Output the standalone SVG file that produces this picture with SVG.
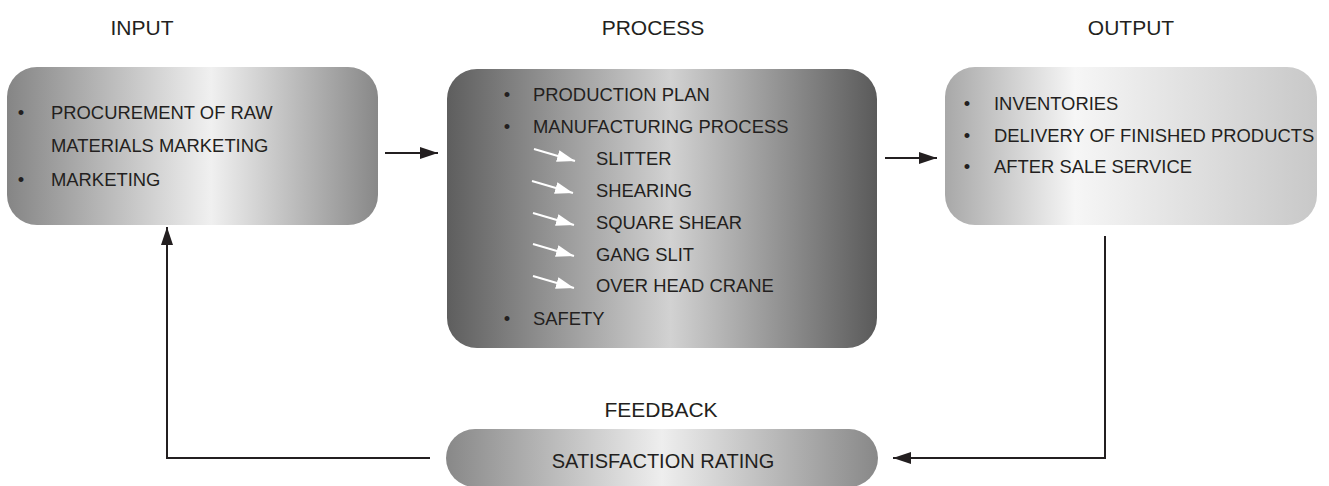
<svg xmlns="http://www.w3.org/2000/svg" width="1329" height="486" viewBox="0 0 1329 486">
<style>
text{font-family:"Liberation Sans",Arial,sans-serif;font-size:18.4px;fill:#231f20}
.h{text-anchor:middle;font-size:21px}
.b{text-anchor:middle}
.ln{stroke:#231f20;stroke-width:2;fill:none}
.wa{stroke:#fff;stroke-width:2;fill:none}
</style>
<defs>
<linearGradient id="gIn" x1="0" y1="0" x2="1" y2="0">
<stop offset="0" stop-color="#858585"/>
<stop offset="0.55" stop-color="#f0f0f0"/>
<stop offset="1" stop-color="#888888"/>
</linearGradient>
<linearGradient id="gPr" x1="0" y1="0" x2="1" y2="0">
<stop offset="0" stop-color="#5e5e5e"/>
<stop offset="0.52" stop-color="#d2d2d2"/>
<stop offset="1" stop-color="#5a5a5a"/>
</linearGradient>
<linearGradient id="gOut" x1="0" y1="0" x2="1" y2="0">
<stop offset="0" stop-color="#a8a8a8"/>
<stop offset="0.35" stop-color="#f6f6f6"/>
<stop offset="1" stop-color="#c8c8c8"/>
</linearGradient>
<linearGradient id="gFb" x1="0" y1="0" x2="1" y2="0">
<stop offset="0" stop-color="#888888"/>
<stop offset="0.5" stop-color="#eeeeee"/>
<stop offset="1" stop-color="#888888"/>
</linearGradient>
<marker id="ah" viewBox="0 0 18 12" refX="18" refY="6" markerWidth="18" markerHeight="12" markerUnits="userSpaceOnUse" orient="auto">
<path d="M0,0 L18,6 L0,12 Z" fill="#231f20"/>
</marker>
<marker id="wh" viewBox="0 0 18 12" refX="18" refY="6" markerWidth="18" markerHeight="12" markerUnits="userSpaceOnUse" orient="auto">
<path d="M0,0 L18,6 L0,12 Z" fill="#ffffff"/>
</marker>
</defs>
<rect width="1329" height="486" fill="#ffffff"/>

<g id="headers">
<text class="h" x="142" y="35">INPUT</text>
<text class="h" x="653" y="35">PROCESS</text>
<text class="h" x="1131" y="35">OUTPUT</text>
<text class="h" x="661" y="417">FEEDBACK</text>
</g>

<g id="input">
<rect x="7" y="67" width="371" height="158" rx="30" fill="url(#gIn)"/>
<text class="b" x="21" y="119">•</text>
<text x="51" y="119">PROCUREMENT OF RAW</text>
<text x="51" y="152">MATERIALS MARKETING</text>
<text class="b" x="21" y="186">•</text>
<text x="51" y="186">MARKETING</text>
</g>

<g id="process">
<rect x="447" y="69" width="430" height="279" rx="30" fill="url(#gPr)"/>
<text class="b" x="507" y="101">•</text>
<text x="533" y="101">PRODUCTION PLAN</text>
<text class="b" x="507" y="133">•</text>
<text x="533" y="133">MANUFACTURING PROCESS</text>
<text x="596" y="165">SLITTER</text>
<text x="596" y="197">SHEARING</text>
<text x="596" y="229">SQUARE SHEAR</text>
<text x="596" y="261">GANG SLIT</text>
<text x="596" y="292">OVER HEAD CRANE</text>
<text class="b" x="507" y="325">•</text>
<text x="533" y="325">SAFETY</text>
<g id="sub-arrows">
<line class="wa" x1="534" y1="149" x2="575" y2="161" marker-end="url(#wh)"/>
<line class="wa" x1="532" y1="181" x2="573" y2="193" marker-end="url(#wh)"/>
<line class="wa" x1="533" y1="213" x2="574" y2="225" marker-end="url(#wh)"/>
<line class="wa" x1="533" y1="244" x2="574" y2="256" marker-end="url(#wh)"/>
<line class="wa" x1="533" y1="276" x2="574" y2="288" marker-end="url(#wh)"/>
</g>
</g>

<g id="output">
<rect x="945" y="67" width="372" height="158" rx="30" fill="url(#gOut)"/>
<text class="b" x="967" y="110">•</text>
<text x="994" y="110">INVENTORIES</text>
<text class="b" x="967" y="142">•</text>
<text x="994" y="142">DELIVERY OF FINISHED PRODUCTS</text>
<text class="b" x="967" y="173">•</text>
<text x="994" y="173">AFTER SALE SERVICE</text>
</g>

<g id="feedback">
<rect x="446" y="429" width="432" height="58" rx="29" fill="url(#gFb)"/>
<text class="b" x="663" y="468" style="font-size:20px">SATISFACTION RATING</text>
</g>

<g id="connectors">
<line class="ln" x1="385" y1="153" x2="438" y2="153" marker-end="url(#ah)"/>
<line class="ln" x1="885" y1="158" x2="937" y2="158" marker-end="url(#ah)"/>
<polyline class="ln" points="1105,236 1105,458 893,458" marker-end="url(#ah)"/>
<polyline class="ln" points="430,458 167,458 167,227" marker-end="url(#ah)"/>
</g>
</svg>
